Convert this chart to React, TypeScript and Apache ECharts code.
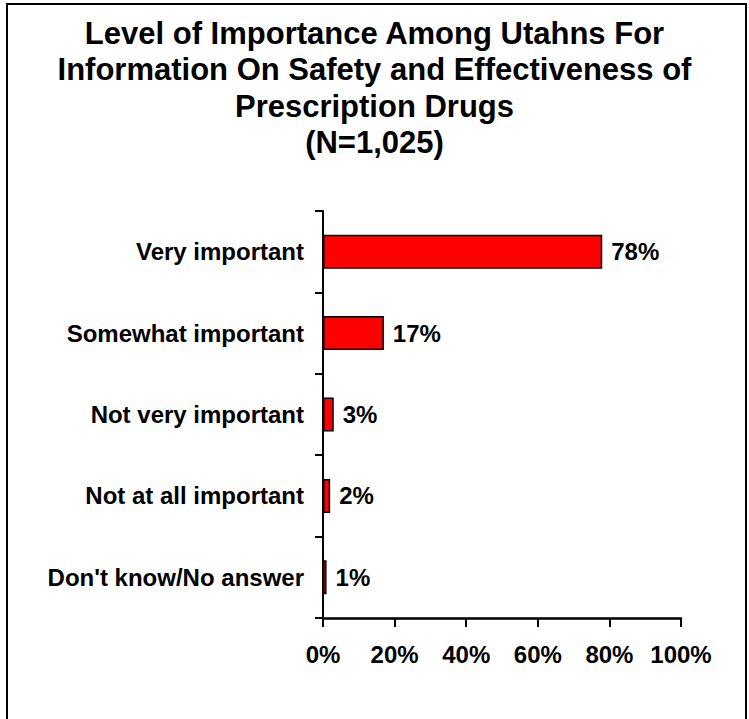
import React, { useEffect, useRef } from "react";
import * as echarts from "echarts";

const titleLines = [
  "Level of Importance Among Utahns For",
  "Information On Safety and Effectiveness of",
  "Prescription Drugs",
  "(N=1,025)",
];
const categories = [
  "Very important",
  "Somewhat important",
  "Not very important",
  "Not at all important",
  "Don't know/No answer",
];
const values = [78, 17, 3, 2, 1];
const xTicks = { min: 0, max: 100, interval: 20 };

const FONT = "'Liberation Sans', Arial, Helvetica, sans-serif";

export default function App() {
  const ref = useRef<HTMLDivElement>(null);
  useEffect(() => {
    if (!ref.current) return;
    const chart = echarts.init(ref.current, null, { renderer: "svg" });
    chart.setOption({
      animation: false,
      backgroundColor: "#ffffff",
      title: {
        text: titleLines.join("\n"),
        left: "center",
        top: 15,
        padding: 0,
        textStyle: {
          fontFamily: FONT,
          fontSize: 31,
          fontWeight: "bold",
          color: "#000",
          lineHeight: 36.5,
        },
      },
      graphic: [
        {
          type: "rect",
          shape: { x: 7, y: 4, width: 739, height: 740 },
          style: { fill: "none", stroke: "#000", lineWidth: 2 },
          silent: true,
        },
      ],
      grid: { left: 323, right: 68, top: 211, bottom: 101, containLabel: false },
      xAxis: {
        type: "value",
        min: xTicks.min,
        max: xTicks.max,
        interval: xTicks.interval,
        axisLine: { show: true, lineStyle: { color: "#000", width: 2.5 } },
        axisTick: { show: true, length: 9, lineStyle: { color: "#000", width: 2 } },
        splitLine: { show: false },
        axisLabel: {
          formatter: "{value}%",
          margin: 24,
          fontFamily: FONT,
          fontSize: 24,
          fontWeight: "bold",
          color: "#000",
        },
      },
      yAxis: {
        type: "category",
        data: categories,
        inverse: true,
        axisLine: { show: true, lineStyle: { color: "#000", width: 2 } },
        axisTick: { show: true, length: 8, lineStyle: { color: "#000", width: 2 } },
        axisLabel: {
          margin: 19,
          fontFamily: FONT,
          fontSize: 24,
          fontWeight: "bold",
          color: "#000",
        },
      },
      series: [
        {
          type: "bar",
          data: values,
          barWidth: 34,
          itemStyle: { color: "#ff0000", borderColor: "#000", borderWidth: 1.5 },
          label: {
            show: true,
            position: "right",
            distance: 9,
            formatter: "{c}%",
            fontFamily: FONT,
            fontSize: 24,
            fontWeight: "bold",
            color: "#000",
          },
        },
      ],
    });
    return () => chart.dispose();
  }, []);
  return (
    <div
      ref={ref}
      style={{ position: "fixed", left: 0, top: 0, width: 749, height: 719 }}
    />
  );
}
